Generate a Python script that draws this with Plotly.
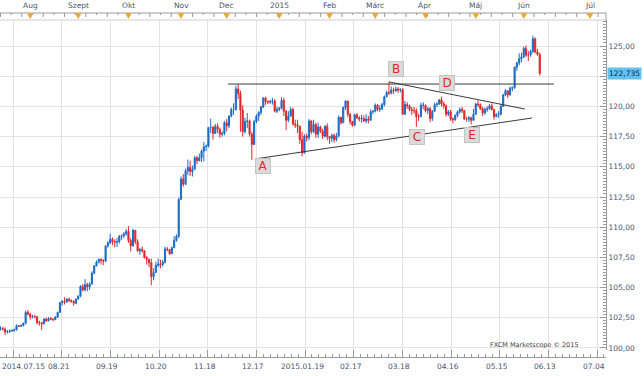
import plotly.graph_objects as go

# ---------------- data (USD/JPY daily, 2014.07.15 - 2015.06.10) ----------------
first_open = 101.55
closes = [
    101.60, 101.55, 101.32, 101.35, 101.40, 101.45, 101.50, 101.85, 101.80, 101.85, 102.05, 102.95, 102.80,
    102.58, 102.60, 102.58, 102.10, 102.10, 102.00, 102.40, 102.25, 102.45, 102.40, 102.35, 102.55, 102.95, 103.75, 103.85, 103.80, 104.05, 103.95, 103.85, 103.70, 104.05,
    104.30, 105.10, 104.80, 105.25, 105.05, 105.30, 106.20, 106.80, 107.10, 107.35, 107.25, 107.20, 108.45, 108.70, 109.00, 108.80, 108.75, 108.80, 109.25, 109.30, 109.45, 109.65,
    108.90, 108.45, 109.75, 108.80, 108.05, 108.15, 108.05, 107.50, 107.35, 107.05, 105.90, 106.25, 106.85, 106.95, 106.90, 107.10, 108.20, 108.15, 107.80, 108.30, 108.90, 109.25, 112.30,
    114.00, 113.55, 114.65, 114.95, 114.60, 114.80, 115.75, 115.50, 115.75, 116.30, 116.65, 116.70, 118.25, 118.25, 117.75, 118.35, 118.10, 117.70, 117.75, 118.65,
    118.40, 119.20, 119.75, 119.75, 121.45, 121.05, 119.70, 117.90, 118.75, 118.80, 117.70, 116.85, 118.75, 119.20, 119.50, 119.95, 120.70, 120.40, 120.35, 120.40, 120.45, 119.60, 119.75,
    119.85, 120.50, 119.60, 118.85, 119.20, 119.75, 118.55, 118.45, 118.35, 117.25, 116.15, 117.55, 117.40, 118.80, 117.90, 118.50, 117.70, 118.30, 117.95, 117.55, 118.35, 117.50,
    117.35, 117.60, 117.25, 117.55, 119.10, 118.65, 119.90, 120.45, 119.35, 118.75, 118.45, 119.30, 119.05, 118.95, 119.00, 118.80, 118.95, 118.85, 119.55, 119.60,
    120.10, 119.75, 119.80, 120.15, 120.80, 121.15, 121.10, 121.35, 121.30, 121.45, 121.35, 121.40, 119.35, 120.15, 120.05, 119.75, 119.65, 119.65, 119.15, 119.15, 120.10, 120.10,
    119.65, 119.80, 119.00, 119.60, 120.15, 120.20, 120.55, 120.20, 120.05, 119.35, 119.55, 118.95, 118.90, 119.25, 119.55, 119.75, 119.65, 118.95, 118.95, 119.05, 118.85, 119.35,
    120.20, 120.15, 119.80, 119.45, 119.75, 119.80, 120.05, 119.75, 119.15, 119.35, 119.35, 120.00, 120.95, 121.30, 120.95, 121.50, 121.55, 123.25, 123.60, 123.95, 124.10,
    124.80, 124.25, 124.25, 124.55, 125.60, 124.50, 124.30, 122.735,
]
highs = [
    101.80, 101.75, 101.70, 101.50, 101.55, 101.55, 101.60, 101.95, 101.90, 101.95, 102.10, 103.10, 103.15,
    102.90, 102.75, 102.75, 102.65, 102.25, 102.15, 102.45, 102.50, 102.55, 102.55, 102.45, 102.65, 103.00, 103.80, 103.95, 104.20, 104.10, 104.15, 104.00, 103.95, 104.10,
    104.35, 105.20, 105.30, 105.70, 105.40, 105.45, 106.35, 106.85, 107.25, 107.40, 107.40, 107.35, 108.50, 108.85, 109.45, 109.15, 109.00, 109.10, 109.35, 109.40, 109.60, 109.85,
    110.09, 109.10, 109.85, 109.20, 109.00, 108.30, 108.40, 107.95, 107.60, 107.35, 107.40, 106.60, 107.15, 107.40, 107.30, 107.30, 108.40, 108.35, 108.20, 108.40, 109.25, 109.40, 112.45,
    114.20, 114.40, 114.85, 115.60, 115.50, 115.10, 115.90, 115.90, 116.10, 116.45, 117.05, 116.85, 118.30, 118.98, 118.40, 118.55, 118.60, 118.25, 117.95, 118.80,
    118.95, 119.25, 119.90, 120.25, 121.70, 121.85, 121.30, 120.10, 119.05, 119.45, 118.90, 117.90, 118.90, 119.35, 119.60, 120.05, 120.75, 120.80, 120.50, 120.55, 120.70, 120.60, 120.00,
    119.95, 120.75, 120.70, 119.70, 119.60, 119.95, 119.90, 118.90, 118.90, 118.40, 117.90, 117.70, 117.75, 118.95, 118.85, 118.90, 118.65, 118.65, 118.40, 118.15, 118.45, 118.60,
    117.55, 117.75, 117.75, 117.80, 119.25, 119.10, 120.00, 120.48, 120.40, 119.45, 118.80, 119.40, 119.45, 119.20, 119.30, 119.25, 119.35, 119.20, 119.75, 119.70,
    120.25, 120.20, 120.10, 120.30, 120.90, 121.30, 122.03, 121.65, 121.55, 121.65, 121.60, 121.50, 121.50, 120.45, 120.35, 120.15, 119.95, 119.95, 119.85, 119.40, 120.30, 120.35,
    120.15, 119.95, 119.95, 119.70, 120.30, 120.35, 120.60, 120.80, 120.40, 120.15, 119.70, 119.70, 119.10, 119.35, 119.65, 119.90, 119.95, 119.70, 119.15, 119.20, 119.15, 119.80,
    120.30, 120.50, 120.25, 119.95, 119.90, 120.00, 120.20, 120.25, 119.80, 119.45, 119.60, 120.20, 121.05, 121.45, 121.20, 121.65, 121.65, 123.30, 123.70, 124.40, 124.45,
    124.95, 125.05, 124.60, 124.70, 125.86, 125.70, 124.75, 124.45,
]
lows = [
    101.45, 101.45, 101.08, 101.20, 101.25, 101.35, 101.35, 101.45, 101.75, 101.75, 101.80, 101.95, 102.70,
    102.35, 102.45, 102.45, 101.95, 101.85, 101.50, 101.95, 102.15, 102.20, 102.30, 102.20, 102.30, 102.50, 102.90, 103.50, 103.60, 103.75, 103.80, 103.75, 103.50, 103.65,
    104.00, 104.20, 104.70, 104.70, 104.70, 104.80, 105.25, 106.10, 106.75, 107.00, 106.90, 106.85, 107.10, 108.30, 108.60, 108.50, 108.35, 108.35, 108.65, 108.95, 109.10, 109.30,
    108.70, 108.00, 108.40, 108.60, 107.95, 107.70, 107.90, 107.40, 106.90, 106.70, 105.20, 105.60, 106.30, 106.70, 106.60, 106.75, 107.00, 108.00, 107.70, 107.80, 108.30, 108.80, 109.10,
    112.60, 113.35, 113.50, 114.30, 114.25, 114.20, 114.75, 115.20, 115.45, 115.40, 115.45, 116.30, 116.60, 117.80, 117.25, 117.90, 117.80, 117.40, 117.50, 117.60,
    117.95, 118.20, 119.10, 119.30, 119.65, 120.60, 117.90, 117.50, 117.75, 118.20, 117.50, 115.57, 116.80, 118.60, 118.80, 119.30, 119.85, 120.10, 120.20, 120.20, 120.15, 119.50, 119.45,
    119.60, 119.75, 119.20, 118.05, 118.70, 119.15, 118.40, 118.20, 117.80, 116.90, 115.86, 116.10, 117.10, 117.20, 117.70, 117.80, 117.40, 117.40, 117.80, 117.30, 117.40, 117.20,
    116.90, 117.05, 117.00, 117.10, 117.45, 118.50, 118.60, 119.70, 119.10, 118.50, 118.30, 118.35, 118.95, 118.75, 118.65, 118.70, 118.60, 118.60, 118.80, 119.35,
    119.50, 119.60, 119.55, 119.70, 120.00, 120.75, 120.95, 121.00, 121.05, 121.20, 121.10, 121.15, 119.30, 119.30, 119.80, 119.60, 119.30, 119.40, 118.30, 118.80, 119.10, 119.75,
    119.50, 119.35, 118.70, 118.80, 119.55, 119.95, 120.10, 120.00, 119.80, 119.15, 119.20, 118.80, 118.60, 118.80, 119.10, 119.40, 119.45, 118.90, 118.75, 118.70, 118.50, 118.90,
    119.30, 119.95, 119.70, 119.20, 119.30, 119.55, 119.75, 119.65, 118.90, 119.10, 119.05, 119.25, 120.00, 120.85, 120.70, 120.90, 121.25, 121.45, 122.95, 123.40, 123.65,
    124.00, 124.10, 123.75, 124.10, 124.40, 124.40, 124.20, 122.55,
]

date_labels = ["2014.07.15", "08.21", "09.19", "10.20", "11.18", "12.17", "2015.01.19",
               "02.17", "03.18", "04.16", "05.15", "06.13", "07.04"]
month_labels = ["Aug", "Szept", "Okt", "Nov", "Dec", "2015", "Feb", "Márc", "Ápr", "Máj", "Jún", "Júl"]
month_bar_index = [13, 34, 56, 79, 99, 122, 144, 164, 186, 208, 229, 258]
price_ticks = [100.0, 102.5, 105.0, 107.5, 110.0, 112.5, 115.0, 117.5, 120.0, 122.5, 125.0]
price_tick_text = ["100,00", "102,50", "105,00", "107,50", "110,00", "112,50",
                   "115,00", "117,50", "120,00", "122,50", "125,00"]
last_price = 122.735
last_price_text = "122,735"

pattern_labels = ["A", "B", "C", "D", "E"]
pattern_x = [115.0, 173.1, 182.1, 195.3, 206.2]
pattern_y = [115.03, 123.13, 117.47, 121.90, 117.63]

resistance_x = [99.6, 242.2]
resistance_y = [121.85, 121.85]
falling_x = [170.0, 229.5]
falling_y = [122.03, 119.78]
rising_x = [111.4, 232.6]
rising_y = [115.65, 119.04]

grid_start = 5.47
grid_step = 21.3
top_tick_step = 4.67

# ---------------- derived ----------------
n = len(closes)
bars = list(range(n))
opens = [first_open] + closes[:-1]
highs_c = [max(h, o, c) for h, o, c in zip(highs, opens, closes)]
lows_c = [min(l, o, c) for l, o, c in zip(lows, opens, closes)]

BLUE = "#1d6cc8"
RED = "#e3262b"
AXIS = "#9a9a9a"
GRID = "#e3e3e3"
TXT = "#4a5470"
FONT = "DejaVu Sans"

x_range = [-0.22, 265.0]
y_range = [99.834, 127.152]
H = 344.0  # plotting region height in px (paper)
TOP = 337 / H  # top of price pane in paper units

fig = go.Figure()
fig.add_trace(go.Candlestick(
    x=bars, open=opens, high=highs_c, low=lows_c, close=closes,
    increasing=dict(line=dict(color=BLUE, width=1), fillcolor=BLUE),
    decreasing=dict(line=dict(color=RED, width=1), fillcolor=RED),
    whiskerwidth=0, showlegend=False, hoverinfo="skip",
))

grid_vals = [grid_start + grid_step * k for k in range(len(date_labels))]

fig.update_layout(
    width=644, height=376,
    margin=dict(l=0, r=38, t=13, b=19),
    paper_bgcolor="white", plot_bgcolor="white",
    font=dict(family=FONT, size=7.5, color=TXT),
    xaxis=dict(
        range=x_range, domain=[0, 1], anchor="free", position=0,
        showgrid=True, gridcolor=GRID, gridwidth=1,
        tickmode="array", tickvals=grid_vals, showticklabels=False,
        ticks="inside", ticklen=7, tickcolor=AXIS, tickwidth=1,
        minor=dict(tickmode="linear", tick0=grid_start, dtick=grid_step / 7,
                   ticks="inside", ticklen=3, tickcolor=AXIS, showgrid=False),
        showline=True, linecolor=AXIS, linewidth=1,
        zeroline=False, rangeslider=dict(visible=False), fixedrange=True,
    ),
    yaxis=dict(
        range=y_range, domain=[7 / H, TOP], side="right", anchor="x",
        tickmode="array", tickvals=price_ticks, ticktext=price_tick_text,
        showgrid=True, gridcolor=GRID, gridwidth=1,
        ticks="inside", ticklen=6, tickcolor=AXIS,
        minor=dict(tickmode="linear", tick0=100, dtick=0.25, ticks="inside",
                   ticklen=3, tickcolor=AXIS, showgrid=False),
        showline=True, linecolor=AXIS, zeroline=False, fixedrange=True,
        tickfont=dict(family=FONT, size=7.5, color=TXT),
    ),
)

# ---- top time scale band (line at top, ticks hanging down) ----
fig.add_shape(type="line", xref="paper", yref="paper", x0=0, x1=1, y0=1, y1=1,
              line=dict(color=AXIS, width=1))
fig.add_shape(type="line", xref="paper", yref="paper", x0=1, x1=1, y0=TOP, y1=1,
              line=dict(color=AXIS, width=1))
tick_path = ""
k = 0
while top_tick_step * k <= x_range[1]:
    tx = top_tick_step * k
    ln = 4 if k % 2 == 0 else 2
    tick_path += f"M{tx:.3f},1 L{tx:.3f},{1 - ln / H:.5f} "
    k += 1
fig.add_shape(type="path", xref="x", yref="paper", path=tick_path,
              line=dict(color=AXIS, width=1))
tri_path = ""
for mi in month_bar_index:
    tri_path += (f"M{mi - 1.25:.3f},{1 - 0.5 / H:.5f} L{mi + 1.25:.3f},{1 - 0.5 / H:.5f} "
                 f"L{mi:.3f},{1 - 5.5 / H:.5f} Z ")
fig.add_shape(type="path", xref="x", yref="paper", path=tri_path,
              fillcolor="#f2a32a", line=dict(color="#f2a32a", width=0.5))

# plot top border
fig.add_shape(type="line", xref="paper", yref="paper", x0=0, x1=1,
              y0=TOP, y1=TOP, line=dict(color="#cfcfcf", width=1))

# trend lines
for lx, ly in [(resistance_x, resistance_y), (falling_x, falling_y), (rising_x, rising_y)]:
    fig.add_shape(type="line", xref="x", yref="y", x0=lx[0], x1=lx[1], y0=ly[0], y1=ly[1],
                  line=dict(color="#3a3a3a", width=1))

# pattern labels
for lab, px, py in zip(pattern_labels, pattern_x, pattern_y):
    fig.add_annotation(x=px, y=py, xref="x", yref="y", text=lab, showarrow=False,
                       font=dict(family=FONT, size=12, color="#e3262b"),
                       bgcolor="#dadada", bordercolor="#c4c4c4", borderwidth=1, borderpad=0,
                       width=14, height=14, align="center", valign="middle")

# month labels (top scale)
for mi, lab in zip(month_bar_index, month_labels):
    fig.add_annotation(x=mi, xref="x", xanchor="center", y=1 + 7 / H, yref="paper",
                       yanchor="middle", text=lab, showarrow=False,
                       font=dict(family=FONT, size=7.5, color=TXT))

# bottom date labels
for i, (gv, lab) in enumerate(zip(grid_vals, date_labels)):
    if i == 0:
        fig.add_annotation(x=0, xref="paper", xanchor="left", y=-9 / H, yref="paper",
                           yanchor="middle", text=lab, showarrow=False,
                           font=dict(family=FONT, size=7.5, color=TXT))
    else:
        fig.add_annotation(x=gv, xref="x", xanchor="center", xshift=-3, y=-9 / H, yref="paper",
                           yanchor="middle", text=lab, showarrow=False,
                           font=dict(family=FONT, size=7.5, color=TXT))

# last price tag
fig.add_annotation(x=1, xref="paper", xanchor="left", xshift=1, y=last_price, yref="y",
                   yanchor="middle", text=last_price_text, showarrow=False,
                   bgcolor="#63c3f0", borderpad=1,
                   font=dict(family=FONT, size=7.5, color="#13244f"))

# watermark
fig.add_annotation(x=581 / 606, xref="paper", xanchor="right", y=12 / H, yref="paper",
                   yanchor="middle", text="FXCM Marketscope © 2015", showarrow=False,
                   font=dict(family=FONT, size=6.5, color="#444444"))

fig.write_html("out.html", config={"displayModeBar": False},
               post_script="document.body.style.margin='0px';")
